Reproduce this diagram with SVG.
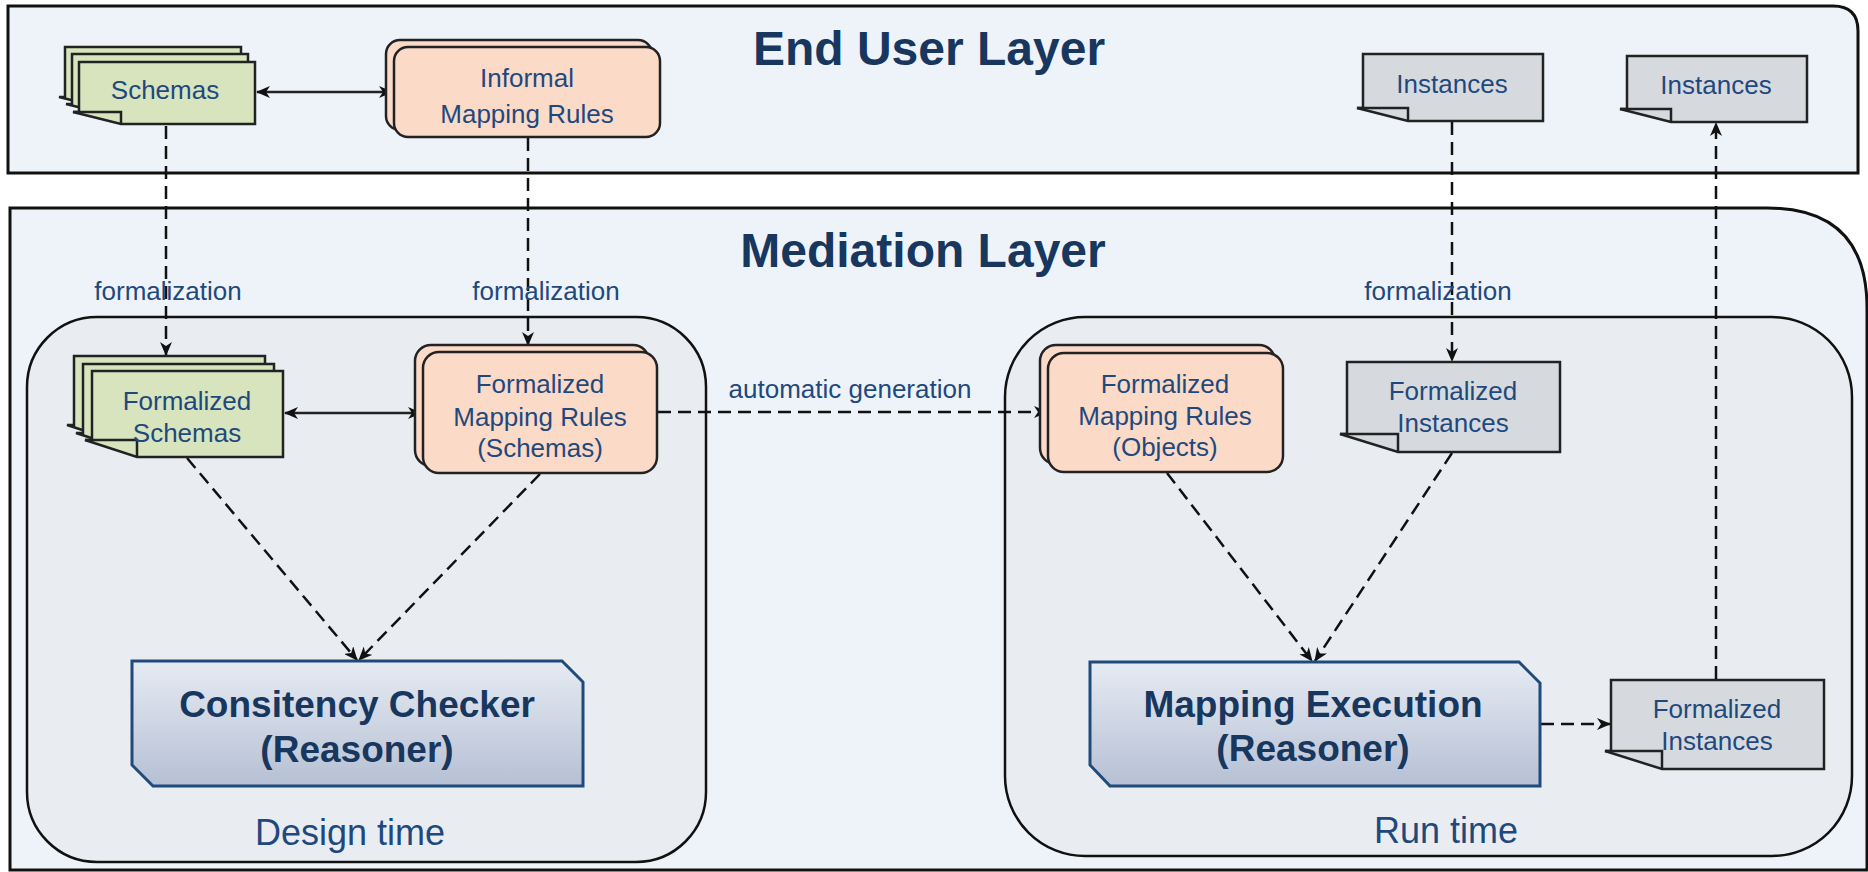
<svg xmlns="http://www.w3.org/2000/svg" width="1868" height="872" viewBox="0 0 1868 872">
<defs>
<marker id="ah" viewBox="0 0 14 12" markerWidth="14" markerHeight="12" refX="13" refY="6" orient="auto-start-reverse" markerUnits="userSpaceOnUse">
<path d="M0,0 L14,6 L0,12 L4,6 z" fill="#111"/>
</marker>
<linearGradient id="rg" x1="0" y1="0" x2="0" y2="1">
<stop offset="0" stop-color="#e6ebf3"/>
<stop offset="1" stop-color="#b6c0d4"/>
</linearGradient>
<style>
.layer{fill:#eef3fa;stroke:#111;stroke-width:3}
.zone{fill:#e9edf2;stroke:#111;stroke-width:2.5}
.green{fill:#d7e4bd;stroke:#222;stroke-width:2.5;stroke-linejoin:miter}
.peach{fill:#fbdac8;stroke:#222;stroke-width:2.5}
.gray{fill:#d6dadf;stroke:#222;stroke-width:2.5}
.fold{fill:none;stroke:#222;stroke-width:2.5}
.proc{fill:url(#rg);stroke:#1f4a7c;stroke-width:3}
.t{font-family:"Liberation Sans",Arial,sans-serif;font-size:26px;fill:#1f497d;text-anchor:middle}
.title{font-family:"Liberation Sans",Arial,sans-serif;font-size:48px;font-weight:bold;fill:#17375e;text-anchor:middle}
.pt{font-family:"Liberation Sans",Arial,sans-serif;font-size:37px;font-weight:bold;fill:#17375e;text-anchor:middle}
.zt{font-family:"Liberation Sans",Arial,sans-serif;font-size:36px;fill:#1f497d;text-anchor:middle}
.solid{fill:none;stroke:#222;stroke-width:2.5}
.dash{fill:none;stroke:#111;stroke-width:2.5;stroke-dasharray:13 7}
</style>
</defs>
<rect width="1868" height="872" fill="#fff"/>

<g id="end-user-layer">
<path class="layer" d="M8,6 H1833 Q1858,6 1858,31 V173 H8 Z"/>
<text class="title" x="929" y="65">End User Layer</text>
</g>

<g id="mediation-layer">
<path class="layer" d="M10,208 H1767 Q1867,208 1867,308 V870 H10 Z"/>
<text class="title" x="923" y="267">Mediation Layer</text>
</g>

<g id="design-time">
<rect class="zone" x="27" y="317" width="679" height="545" rx="70" ry="70"/>
<text class="zt" x="350" y="845">Design time</text>
</g>

<g id="run-time">
<rect class="zone" x="1005" y="317" width="847" height="539" rx="80" ry="80"/>
<text class="zt" x="1446" y="843">Run time</text>
</g>

<g id="connectors">
<line class="solid" x1="257" y1="92" x2="392" y2="92" marker-start="url(#ah)" marker-end="url(#ah)"/>
<line class="solid" x1="285" y1="413" x2="421" y2="413" marker-start="url(#ah)" marker-end="url(#ah)"/>
<line class="dash" x1="166" y1="126" x2="166" y2="355" marker-end="url(#ah)"/>
<line class="dash" x1="528" y1="138" x2="528" y2="345" marker-end="url(#ah)"/>
<line class="dash" x1="1452" y1="122" x2="1452" y2="361" marker-end="url(#ah)"/>
<line class="dash" x1="658" y1="412" x2="1047" y2="412" marker-end="url(#ah)"/>
<line class="dash" x1="187" y1="458" x2="357" y2="660" marker-end="url(#ah)"/>
<line class="dash" x1="540" y1="474" x2="359" y2="660" marker-end="url(#ah)"/>
<line class="dash" x1="1167" y1="473" x2="1312" y2="661" marker-end="url(#ah)"/>
<line class="dash" x1="1452" y1="453" x2="1315" y2="661" marker-end="url(#ah)"/>
<line class="dash" x1="1541" y1="724" x2="1610" y2="724" marker-end="url(#ah)"/>
<line class="dash" x1="1716" y1="679" x2="1716" y2="123" marker-end="url(#ah)"/>
<text class="t" x="168" y="300">formalization</text>
<text class="t" x="546" y="300">formalization</text>
<text class="t" x="1438" y="300">formalization</text>
<text class="t" x="850" y="398">automatic generation</text>
</g>

<g id="schemas">
<path class="green" d="M65,47 H241 V109 H107 L59,97 L65,97 Z"/>
<path class="green" d="M72,54 H248 V116 H114 L66,104 L72,104 Z"/>
<path class="green" d="M79,62 H255 V124 H121 L73,112 L79,112 Z"/>
<path class="fold" d="M73,112 H121 V124"/>
<text class="t" x="165" y="99">Schemas</text>
</g>

<g id="informal-mapping-rules">
<rect class="peach" x="386" y="40" width="266" height="90" rx="14"/>
<rect class="peach" x="394" y="47" width="266" height="90" rx="14"/>
<text class="t" x="527" y="87">Informal</text>
<text class="t" x="527" y="123">Mapping Rules</text>
</g>

<g id="instances-1">
<path class="gray" d="M1363,54 H1543 V121 H1408 L1357,108 L1363,108 Z"/>
<path class="fold" d="M1357,108 H1408 V121"/>
<text class="t" x="1452" y="93">Instances</text>
</g>

<g id="instances-2">
<path class="gray" d="M1627,56 H1807 V122 H1671 L1620,109 L1627,109 Z"/>
<path class="fold" d="M1620,109 H1671 V122"/>
<text class="t" x="1716" y="94">Instances</text>
</g>

<g id="formalized-schemas">
<path class="green" d="M74,356 H265 V442 H119 L67,425 L74,425 Z"/>
<path class="green" d="M83,364 H274 V450 H128 L76,433 L83,433 Z"/>
<path class="green" d="M92,371 H283 V457 H137 L85,440 L92,440 Z"/>
<path class="fold" d="M85,440 H137 V457"/>
<text class="t" x="187" y="410">Formalized</text>
<text class="t" x="187" y="442">Schemas</text>
</g>

<g id="formalized-mapping-rules-schemas">
<rect class="peach" x="415" y="345" width="234" height="121" rx="16"/>
<rect class="peach" x="423" y="352" width="234" height="121" rx="16"/>
<text class="t" x="540" y="393">Formalized</text>
<text class="t" x="540" y="426">Mapping Rules</text>
<text class="t" x="540" y="457">(Schemas)</text>
</g>

<g id="formalized-mapping-rules-objects">
<rect class="peach" x="1040" y="345" width="235" height="119" rx="16"/>
<rect class="peach" x="1048" y="353" width="235" height="119" rx="16"/>
<text class="t" x="1165" y="393">Formalized</text>
<text class="t" x="1165" y="425">Mapping Rules</text>
<text class="t" x="1165" y="456">(Objects)</text>
</g>

<g id="formalized-instances-top">
<path class="gray" d="M1347,362 H1560 V452 H1398 L1340,434 L1347,434 Z"/>
<path class="fold" d="M1340,434 H1398 V452"/>
<text class="t" x="1453" y="400">Formalized</text>
<text class="t" x="1453" y="432">Instances</text>
</g>

<g id="consistency-checker">
<path class="proc" d="M132,661 H562 L583,682 V786 H153 L132,765 Z"/>
<text class="pt" x="357" y="717">Consitency Checker</text>
<text class="pt" x="357" y="762">(Reasoner)</text>
</g>

<g id="mapping-execution">
<path class="proc" d="M1090,662 H1519 L1540,683 V786 H1110 L1090,765 Z"/>
<text class="pt" x="1313" y="717">Mapping Execution</text>
<text class="pt" x="1313" y="761">(Reasoner)</text>
</g>

<g id="formalized-instances-bottom">
<path class="gray" d="M1611,680 H1824 V769 H1662 L1605,751 L1611,751 Z"/>
<path class="fold" d="M1605,751 H1662 V769"/>
<text class="t" x="1717" y="718">Formalized</text>
<text class="t" x="1717" y="750">Instances</text>
</g>
</svg>
